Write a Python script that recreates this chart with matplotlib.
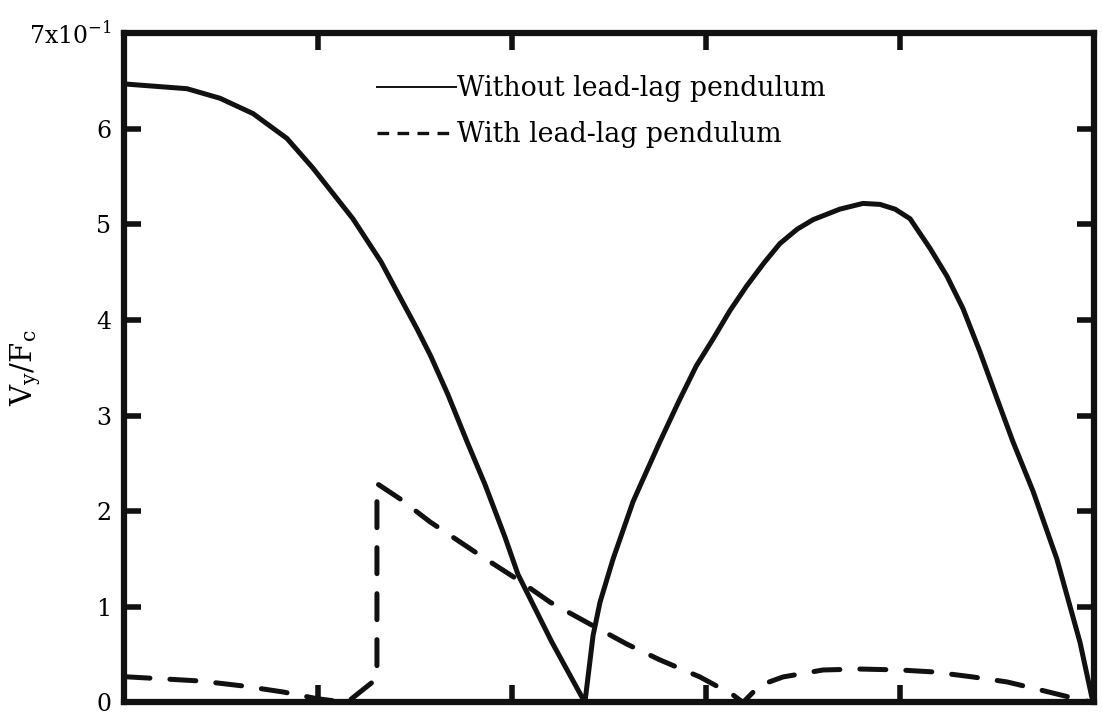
import numpy as np
import matplotlib.pyplot as plt
from matplotlib.lines import Line2D

# response without the pendulum
x_without = [0.0, 0.325, 0.495, 0.665, 0.840, 0.974, 1.180, 1.325, 1.433, 1.510, 1.582,
             1.670, 1.768, 1.861, 1.964, 2.031, 2.206, 2.376,
             2.418, 2.454, 2.521, 2.624, 2.670, 2.763, 2.860, 2.950, 3.036, 3.124,
             3.211, 3.300, 3.381, 3.470, 3.552, 3.690, 3.809, 3.897, 3.975, 4.052,
             4.155, 4.242, 4.325, 4.412, 4.500, 4.582, 4.686, 4.809, 4.928, 4.995]
y_without = [6.47, 6.42, 6.32, 6.16, 5.90, 5.59, 5.06, 4.61, 4.20, 3.91, 3.62,
             3.22, 2.73, 2.28, 1.73, 1.34, 0.63, 0.0,
             0.70, 1.05, 1.50, 2.10, 2.31, 2.73, 3.15, 3.52, 3.80, 4.10,
             4.36, 4.60, 4.80, 4.95, 5.05, 5.16, 5.22, 5.21, 5.16, 5.06,
             4.75, 4.46, 4.12, 3.67, 3.18, 2.73, 2.21, 1.50, 0.63, 0.0]

# response with the lead-lag pendulum
x_with = [0.0, 0.392, 0.613, 0.820, 0.995, 1.149, 1.304, 1.304, 1.423, 1.577, 1.835,
          2.026, 2.196, 2.402, 2.593, 2.763, 2.969, 3.139, 3.191,
          3.278, 3.397, 3.603, 3.794, 4.0, 4.170, 4.376, 4.552, 4.706, 4.912, 4.995]
y_with = [0.27, 0.225, 0.173, 0.11, 0.04, 0.0, 0.25, 2.29, 2.13, 1.89, 1.54,
          1.29, 1.05, 0.82, 0.61, 0.445, 0.267, 0.08, 0.0,
          0.18, 0.267, 0.34, 0.35, 0.34, 0.32, 0.267, 0.215, 0.14, 0.037, 0.0]

yticks = [0, 1, 2, 3, 4, 5, 6, 7]
ylabels = ['0', '1', '2', '3', '4', '5', '6', r'7x10$^{\mathregular{-1}}$']

plt.rcParams['font.family'] = 'DejaVu Serif'

fig = plt.figure(figsize=(11.02, 7.15), dpi=100)
ax = fig.add_axes([0.1125, 0.0175, 0.8802, 0.936])

ax.plot(x_without, y_without, color='#111111', lw=3.6, solid_joinstyle='round',
        solid_capstyle='round')
ax.plot(x_with, y_with, color='#111111', lw=3.6, linestyle=(0, (5.2, 4.0)),
        dash_capstyle='round')

ax.set_xlim(0, 5)
ax.set_ylim(0, 7)
ax.set_xticks(np.arange(0, 6, 1))
ax.set_xticklabels([])
ax.set_yticks(yticks)
ax.set_yticklabels(ylabels, fontsize=17)
ax.tick_params(direction='in', length=12, width=4, color='#111111',
               top=True, right=True, pad=9)
for s in ax.spines.values():
    s.set_linewidth(4.5)
    s.set_color('#111111')

ax.set_ylabel(r'V$_\mathregular{y}$/F$_\mathregular{c}$', fontsize=21)
ax.yaxis.set_label_coords(-0.083, 0.5)

handles = [Line2D([], [], color='#111111', lw=1.4),
           Line2D([], [], color='#111111', lw=2.4, linestyle=(0, (3.5, 2.5)))]
ax.legend(handles, ['Without lead-lag pendulum', 'With lead-lag pendulum'],
          loc='upper left', bbox_to_anchor=(0.236, 0.973), frameon=False,
          fontsize=19.3, handlelength=2.95, handletextpad=0.05, labelspacing=0.7)

plt.savefig('out.png')
